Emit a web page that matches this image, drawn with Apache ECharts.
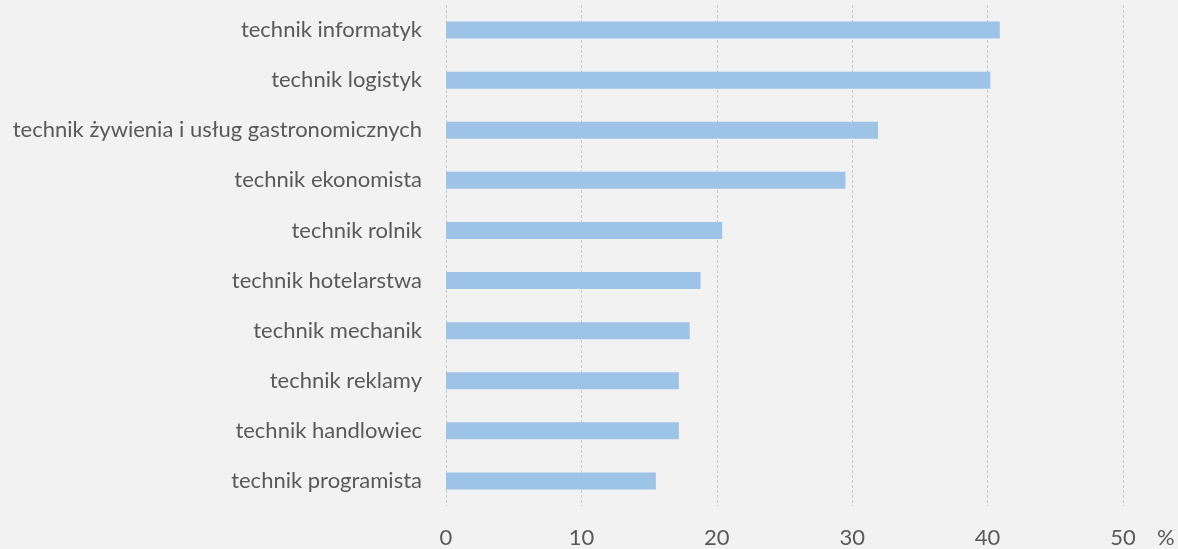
<!DOCTYPE html>
<html>
<head>
<meta charset="utf-8">
<script src="https://cdn.jsdelivr.net/npm/echarts@6/dist/echarts.min.js"></script>
<style>
  html, body { margin: 0; padding: 0; background: #f2f2f2; }
  #chart { width: 1178px; height: 549px; }
</style>
</head>
<body>
<div id="chart"></div>
<script>
// kategorie od dołu do góry (oś kategorii rośnie ku górze)
const categories = [
  'technik programista',
  'technik handlowiec',
  'technik reklamy',
  'technik mechanik',
  'technik hotelarstwa',
  'technik rolnik',
  'technik ekonomista',
  'technik żywienia i usług gastronomicznych',
  'technik logistyk',
  'technik informatyk'
];
const values = [15.5, 17.2, 17.2, 18.0, 18.8, 20.4, 29.5, 31.9, 40.2, 40.9];
const xTicks = [0, 10, 20, 30, 40, 50];

const chart = echarts.init(document.getElementById('chart'));

const option = {
  backgroundColor: '#f2f2f2',
  animation: false,
  grid: {
    left: 446,
    right: 55,
    top: 5,
    bottom: 41
  },
  xAxis: {
    type: 'value',
    min: xTicks[0],
    max: xTicks[xTicks.length - 1],
    interval: 10,
    name: '%',
    nameLocation: 'end',
    nameGap: 34,
    nameTextStyle: {
      color: '#595959',
      fontFamily: 'Lato',
      fontSize: 22,
      verticalAlign: 'top',
      padding: [21, 0, 0, 0]
    },
    axisLine: { show: false },
    axisTick: { show: false },
    axisLabel: {
      color: '#595959',
      fontFamily: 'Lato',
      fontSize: 22,
      margin: 21
    },
    splitLine: {
      show: true,
      lineStyle: { color: '#c8c8c8', type: [3, 2], width: 1 }
    }
  },
  yAxis: {
    type: 'category',
    data: categories,
    axisLine: { show: false },
    axisTick: { show: false },
    axisLabel: {
      color: '#595959',
      fontFamily: 'Lato',
      fontSize: 22,
      margin: 24
    }
  },
  series: [
    {
      type: 'bar',
      data: values,
      barWidth: 17,
      itemStyle: { color: '#9dc3e6' }
    }
  ]
};

chart.setOption(option);
</script>
</body>
</html>
